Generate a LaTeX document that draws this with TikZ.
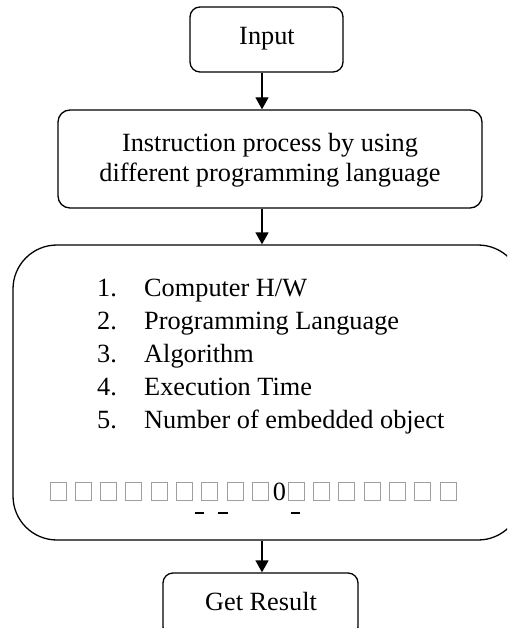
\documentclass[tikz,border=0pt]{standalone}
\usepackage{fontspec}
\setmainfont{Liberation Serif}
\usetikzlibrary{arrows.meta}
\begin{document}
\begin{tikzpicture}[x=1pt,y=-1pt,
  box/.style={draw, line width=1.3pt, rounded corners=10pt, inner sep=0pt},
  arr/.style={line width=1.3pt, -{Triangle[length=12pt,width=13pt]}},
  txt/.style={font=\fontsize{26.3}{30}\selectfont, inner sep=0pt},
  sq/.style={draw=gray!75, line width=1pt},
  dsh/.style={line width=1.4pt}]
\useasboundingbox (0,0) rectangle (507,628);
\clip (0,0) rectangle (507,628);
\coordinate (X) at (262,0);
% Input
\node[box, minimum width=153pt, minimum height=65pt] (in) at (266.5,39.5) {};
\node[txt] (intxt) at (267,39) {Input};
% process
\node[box, rounded corners=12pt, minimum width=424pt, minimum height=98pt] (proc) at (270,159) {};
\node[txt, align=center] (proctxt) at (270,160) {Instruction process by using\\different programming language};
% big box
\node[box, rounded corners=44pt, minimum width=509pt, minimum height=295pt] (big) at (267.5,392.5) {};
\foreach \n/\t/\y in {1/{Computer H/W}/296, 2/{Programming Language}/329, 3/{Algorithm}/362, 4/{Execution Time}/395, 5/{Number of embedded object}/428}{
  \node[txt, anchor=base west] (num\n) at (97,\y) {\n.};
  \node[txt, anchor=base west] (item\n) at (144,\y) {\t};
}
\foreach \x in {50,75.3,100.6,125.9,151.2,176.5,201.8,227.1,252.4,288.3,313.6,338.9,364.2,389.5,414.8,440.1}{
  \draw[sq] (\x,482) rectangle ++(16,18);
}
\node[txt, anchor=base] (zero) at (279.5,500) {0};
\draw[dsh] (195,513) -- (204,513);
\draw[dsh] (218,513) -- (228,513);
\draw[dsh] (291,513) -- (300,513);
% Get result
\node[box, minimum width=195pt, minimum height=64pt] (res) at (260.5,605) {};
\node[txt] (restxt) at (261,601) {Get Result};
% arrows
\draw[arr] (in.south -| X) -- (proc.north -| X);
\draw[arr] (proc.south -| X) -- (big.north -| X);
\draw[arr] (big.south -| X) -- (res.north -| X);
\end{tikzpicture}
\end{document}
